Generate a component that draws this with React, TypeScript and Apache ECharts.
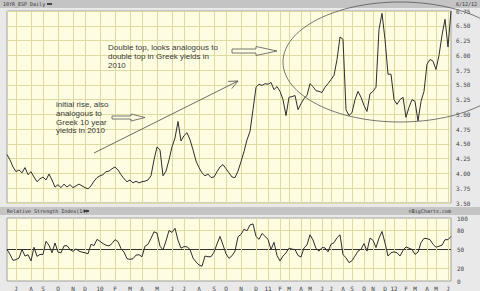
import React, { useEffect, useRef } from 'react';
import * as echarts from 'echarts';

// Month labels along the bottom axis (Jul 2009 .. Jun 2012)
const monthLabels = ['J','A','S','O','N','D','10','F','M','A','M','J','J','A','S','O','N','D','11','F','M','A','M','J','J','A','S','O','N','D','12','F','M','A','M','J'];
// Sample index at which each month label / gridline falls
const monthTickIdx = [3,8,12,17,22,26,31,36,41,45,50,55,59,64,69,73,78,83,87,91,94,98,101,105,108,112,115,119,122,126,129,133,136,140,143,147];

// Spain 10-year yield (%), sampled along the chart
const yieldValues = [
  4.32,4.23,4.11,4.03,4.06,4.01,4.10,3.98,4.03,3.94,
  3.86,3.91,3.94,3.89,3.99,3.89,3.77,3.81,3.76,3.82,
  3.77,3.81,3.76,3.79,3.82,3.79,3.76,3.74,3.79,3.87,
  3.93,3.96,3.98,4.03,4.04,4.08,4.11,4.06,3.98,3.91,
  3.86,3.89,3.84,3.87,3.84,3.86,3.87,3.89,3.96,4.23,
  4.45,4.40,3.96,4.04,4.23,4.45,4.60,4.88,4.55,4.64,
  4.69,4.57,4.40,4.21,4.10,4.01,3.96,3.99,3.93,3.94,
  4.03,4.11,4.15,4.08,4.01,3.94,3.93,4.04,4.20,4.37,
  4.57,4.71,5.08,5.46,5.51,5.49,5.52,5.51,5.54,5.42,
  5.47,5.39,5.25,4.98,5.29,5.30,5.32,5.08,5.18,5.27,
  5.32,5.52,5.47,5.40,5.39,5.37,5.46,5.52,5.59,5.66,
  5.93,6.31,6.27,5.08,4.98,5.03,5.25,5.39,5.29,5.15,
  5.05,5.35,5.39,5.46,6.44,6.71,6.27,5.68,5.68,5.25,
  5.17,5.25,5.29,4.95,5.12,5.25,5.22,4.89,5.22,5.39,
  5.85,5.93,5.90,5.76,6.00,6.34,6.61,6.14,6.75
];

// Relative Strength Index (14)
const rsiValues = [
  50.0,42.2,32.8,33.9,36.5,50.0,39.6,41.7,31.8,53.6,
  39.1,42.2,42.2,63.0,56.8,44.8,60.4,45.8,44.8,55.7,
  56.2,50.0,46.9,51.0,47.4,45.8,44.8,43.2,58.3,56.2,
  66.1,63.0,59.4,56.8,55.7,59.4,65.6,62.5,51.5,45.8,
  35.4,34.4,35.4,41.1,41.7,38.5,55.2,58.3,67.7,78.1,
  76.0,55.2,49.5,63.5,80.2,77.1,83.8,64.6,52.1,54.7,
  54.2,50.0,36.5,30.2,25.5,23.4,39.6,38.5,38.5,45.8,
  58.8,70.8,57.3,43.2,35.9,40.1,47.4,70.3,
  73.9,82.3,79.7,89.0,90.6,70.8,66.1,75.5,70.8,66.1,
  50.0,61.4,40.6,31.8,39.6,44.8,52.1,50.5,50.0,40.6,
  38.0,52.6,57.3,73.4,65.1,51.5,47.4,53.1,52.6,46.3,
  58.3,60.9,68.7,73.4,41.7,37.0,29.1,32.3,39.6,47.4,
  50.5,59.4,47.4,68.2,64.6,53.1,68.2,78.6,60.4,39.6,
  44.8,46.3,44.8,39.6,48.4,54.2,52.1,50.0,42.2,45.8,
  60.9,67.7,67.2,65.6,58.3,53.6,55.2,56.8,65.6,65.6,
  70.8
];

const yieldAxis = { min: 3.5, max: 6.75, interval: 0.25 };
const rsiLabelValues = [0, 20, 50, 80, 100];

const GRID_COLOR = '#dedaa2';
const PLOT_BG = '#fefde1';
const MONO = '"DejaVu Sans Mono", monospace';
const SANS = '"Liberation Sans", Arial, sans-serif';

export default function App() {
  const ref = useRef<HTMLDivElement>(null);
  useEffect(() => {
    const chart = echarts.init(ref.current!, null, { renderer: 'svg' });
    const n = yieldValues.length;
    const tickMap = new Map<number, string>();
    monthTickIdx.forEach((idx, k) => tickMap.set(idx, monthLabels[k]));
    const categories = Array.from({ length: n }, (_, i) =>
      tickMap.has(i) ? `${tickMap.get(i)}|${i}` : `#${i}`
    );
    const isTick = (_i: number, v: string) => !String(v).startsWith('#');

    const rsiLineColors = Array.from({ length: 11 }, (_, k) => {
      const v = k * 10;
      if (v === 50) return '#333333';
      if (v === 20 || v === 80) return GRID_COLOR;
      return 'rgba(0,0,0,0)';
    });

    const txt = (x: number, y: number, text: string, extra: any = {}) => ({
      type: 'text', x, y, z: 100,
      style: {
        text, fill: '#3a3a3a', font: `8px ${SANS}`, lineHeight: 8.6,
        verticalAlign: 'top', textVerticalAlign: 'top', ...extra,
      },
    });

    const option: any = {
      animation: false,
      backgroundColor: '#e9e9e9',
      grid: [
        { left: 7, top: 11, width: 444, height: 192, show: true, backgroundColor: PLOT_BG, borderColor: '#a0a0a0', borderWidth: 1 },
        { left: 7, top: 218, width: 444, height: 64, show: true, backgroundColor: PLOT_BG, borderColor: '#a0a0a0', borderWidth: 1 },
      ],
      xAxis: [
        {
          type: 'category', gridIndex: 0, data: categories, boundaryGap: false,
          axisLine: { show: false }, axisTick: { show: false }, axisLabel: { show: false },
          splitLine: { show: true, interval: isTick, lineStyle: { color: GRID_COLOR, width: 1 } },
        },
        {
          type: 'category', gridIndex: 1, data: categories, boundaryGap: false,
          axisLine: { show: false }, axisTick: { show: false },
          axisLabel: {
            show: true, interval: isTick, margin: 4,
            formatter: (v: string) => (String(v).startsWith('#') ? '' : String(v).split('|')[0]),
            fontFamily: MONO, fontSize: 6, color: '#444',
          },
          splitLine: { show: true, interval: isTick, lineStyle: { color: GRID_COLOR, width: 1 } },
        },
      ],
      yAxis: [
        {
          type: 'value', gridIndex: 0, position: 'right', ...yieldAxis,
          axisLine: { show: false }, axisTick: { show: false },
          axisLabel: { formatter: (v: number) => v.toFixed(2), fontFamily: MONO, fontSize: 6, color: '#444', margin: 5 },
          splitLine: { show: true, lineStyle: { color: GRID_COLOR, width: 1 } },
        },
        {
          type: 'value', gridIndex: 1, position: 'right', min: 0, max: 100, interval: 10,
          axisLine: { show: false }, axisTick: { show: false },
          axisLabel: {
            formatter: (v: number) => (rsiLabelValues.includes(v) ? String(v) : ''),
            fontFamily: MONO, fontSize: 6, color: '#444', margin: 6,
          },
          splitLine: { show: true, lineStyle: { color: rsiLineColors, width: 1 } },
        },
      ],
      series: [
        {
          type: 'line', xAxisIndex: 0, yAxisIndex: 0, data: yieldValues, symbol: 'none',
          lineStyle: { color: '#2e2e2e', width: 1 },
        },
        {
          type: 'line', xAxisIndex: 1, yAxisIndex: 1, data: rsiValues, symbol: 'none',
          lineStyle: { color: '#2e2e2e', width: 1 },
        },
      ],
      graphic: [
        { type: 'rect', z: 1, shape: { x: 0, y: 0, width: 480, height: 8 }, style: { fill: '#c4c4c4' } },
        { type: 'rect', z: 1, shape: { x: 0, y: 207, width: 480, height: 8 }, style: { fill: '#c4c4c4' } },
        txt(3, 1.5, '10YR_ESP Daily', { font: `5px ${MONO}`, fill: '#333', lineHeight: 5 }),
        { type: 'line', z: 100, shape: { x1: 47, y1: 4, x2: 52, y2: 4 }, style: { stroke: '#111', lineWidth: 1.4 } },
        txt(477, 1.5, '6/12/12', { font: `5px ${MONO}`, fill: '#333', lineHeight: 5, align: 'right', textAlign: 'right' }),
        txt(7, 208.5, 'Relative Strength Index(14)', { font: `5px ${MONO}`, fill: '#333', lineHeight: 5 }),
        { type: 'line', z: 100, shape: { x1: 84, y1: 211, x2: 89, y2: 211 }, style: { stroke: '#111', lineWidth: 1.4 } },
        txt(451, 208.5, '©BigCharts.com', { font: `5px ${MONO}`, fill: '#333', lineHeight: 5, align: 'right', textAlign: 'right' }),

        txt(108, 43.5, 'Double top, looks analogous to\ndouble top in Greek yields in\n2010'),
        txt(56, 100.5, 'initial rise, also\nanalogous to\nGreek 10 year\nyields in 2010'),

        {
          type: 'polygon', z: 100,
          shape: { points: [[232, 49], [256, 49], [256, 46.5], [277, 51], [256, 55.5], [256, 53], [232, 53]] },
          style: { fill: PLOT_BG, stroke: '#555', lineWidth: 0.8 },
        },
        {
          type: 'polygon', z: 100,
          shape: { points: [[112, 116], [131, 116], [131, 114], [145, 117.5], [131, 121], [131, 119], [112, 119]] },
          style: { fill: PLOT_BG, stroke: '#555', lineWidth: 0.8 },
        },
        { type: 'line', z: 100, shape: { x1: 94, y1: 153, x2: 238, y2: 81 }, style: { stroke: '#444', lineWidth: 0.8 } },
        {
          type: 'polyline', z: 100,
          shape: { points: [[228, 81.4], [238, 81], [231.8, 88.6]] },
          style: { stroke: '#444', fill: 'none', lineWidth: 0.8 },
        },
        {
          type: 'ellipse', z: 100,
          shape: { cx: 400, cy: 62, rx: 117, ry: 60 },
          style: { fill: 'none', stroke: '#555', lineWidth: 0.8 },
        },
      ],
    };
    chart.setOption(option);
    return () => chart.dispose();
  }, []);
  return <div ref={ref} style={{ position: 'fixed', left: 0, top: 0, width: 480, height: 291 }} />;
}
